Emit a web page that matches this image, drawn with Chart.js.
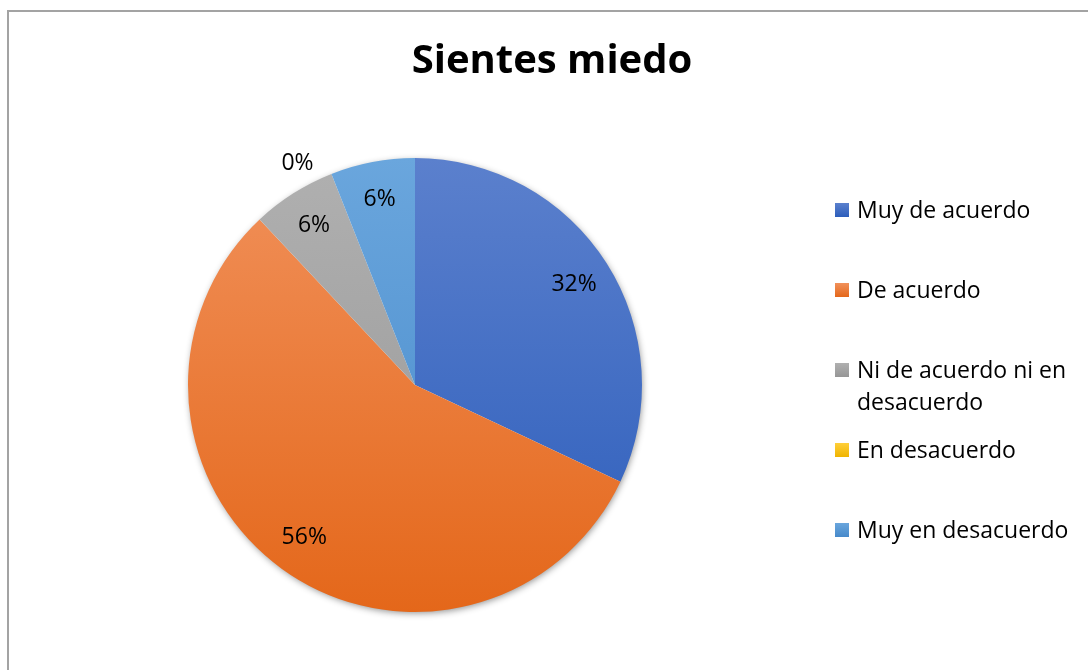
<!DOCTYPE html>
<html lang="es">
<head>
  <meta charset="UTF-8">
  <title>Sientes miedo</title>
  <script src="https://cdn.jsdelivr.net/npm/chart.js"></script>
  <style>
    body {
      margin: 0;
      background: #fff;
      overflow: hidden;
    }
    #frame {
      position: absolute;
      left: 7px;
      top: 10px;
      width: 1200px;
      height: 800px;
      border: 2px solid #a3a3a3;
    }
    canvas {
      position: absolute;
      left: 0;
      top: 0;
    }
  </style>
</head>
<body>
  <div id="frame"></div>
  <canvas id="pieChart" width="1088" height="670"></canvas>

  <script>
    // data
    const categories = ['Muy de acuerdo', 'De acuerdo', 'Ni de acuerdo ni en desacuerdo', 'En desacuerdo', 'Muy en desacuerdo'];
    const percents = [32, 56, 6, 0, 6];
    const chartTitle = 'Sientes miedo';

    // office-like gradient colours, light on top, darker at the bottom
    const topColors = ['#5b80cd', '#f1915b', '#b0b0b0', '#ffcf3a', '#6aa6dd'];
    const bottomColors = ['#2c5dbb', '#e4671a', '#969696', '#efb400', '#4689ca'];
    const fontFam = "'Open Sans', sans-serif";

    function sliceFill(c) {
      const chart = c.chart;
      const area = chart.chartArea;
      const i = c.dataIndex;
      if (!area) return topColors[i];
      const g = chart.ctx.createLinearGradient(0, area.top, 0, area.bottom);
      g.addColorStop(0, topColors[i]);
      g.addColorStop(1, bottomColors[i]);
      return g;
    }

    // soft shadow under the pie
    const pieShadow = {
      id: 'pieShadow',
      beforeDatasetsDraw(chart) {
        const arc = chart.getDatasetMeta(0).data[0];
        if (!arc) return;
        const ctx = chart.ctx;
        ctx.save();
        ctx.shadowColor = 'rgba(0,0,0,0.45)';
        ctx.shadowBlur = 7;
        ctx.shadowOffsetX = 1;
        ctx.shadowOffsetY = 2;
        ctx.fillStyle = '#fff';
        ctx.beginPath();
        ctx.arc(arc.x, arc.y, arc.outerRadius - 1, 0, Math.PI * 2);
        ctx.fill();
        ctx.restore();
      }
    };

    // percent labels, inside near the rim; empty slices go outside
    const sliceLabels = {
      id: 'sliceLabels',
      afterDatasetsDraw(chart) {
        const ctx = chart.ctx;
        ctx.save();
        ctx.font = '23px ' + fontFam;
        ctx.fillStyle = '#000';
        ctx.textAlign = 'center';
        ctx.textBaseline = 'middle';
        chart.getDatasetMeta(0).data.forEach((arc, i) => {
          let mid = (arc.startAngle + arc.endAngle) / 2;
          let r = arc.outerRadius * 0.83;
          if (percents[i] === 0) {
            // pushed out and a bit to the left so it clears the 6% label
            r = arc.outerRadius + 24;
            mid -= 0.11;
          }
          const x = arc.x + Math.cos(mid) * r;
          const y = arc.y + Math.sin(mid) * r;
          ctx.fillText(percents[i] + '%', x, y);
        });
        ctx.restore();
      }
    };

    // title drawn by hand so it can sit centred over the whole frame
    const topTitle = {
      id: 'topTitle',
      afterDraw(chart) {
        const ctx = chart.ctx;
        ctx.save();
        ctx.font = 'bold 40px ' + fontFam;
        ctx.fillStyle = '#000';
        ctx.textAlign = 'center';
        ctx.textBaseline = 'middle';
        ctx.fillText(chartTitle, 552, 62);
        ctx.restore();
      }
    };

    // legend on the right with word wrap
    const sideLegend = {
      id: 'sideLegend',
      afterDraw(chart) {
        const ctx = chart.ctx;
        const boxX = 835, textX = 857, firstY = 210, rowGap = 80, lineH = 32, maxW = 222;
        ctx.save();
        ctx.font = '23px ' + fontFam;
        ctx.textBaseline = 'middle';
        categories.forEach((name, i) => {
          const y = firstY + i * rowGap;
          const g = ctx.createLinearGradient(0, y - 7, 0, y + 7);
          g.addColorStop(0, topColors[i]);
          g.addColorStop(1, bottomColors[i]);
          ctx.fillStyle = g;
          ctx.fillRect(boxX, y - 7, 14, 14);
          ctx.fillStyle = '#000';
          const words = name.split(' ');
          let line = '', ly = y + 1;
          words.forEach(w => {
            const test = line ? line + ' ' + w : w;
            if (ctx.measureText(test).width > maxW && line) {
              ctx.fillText(line, textX, ly);
              line = w;
              ly += lineH;
            } else {
              line = test;
            }
          });
          ctx.fillText(line, textX, ly);
        });
        ctx.restore();
      }
    };

    new Chart(document.getElementById('pieChart'), {
      type: 'pie',
      data: {
        labels: categories,
        datasets: [{
          data: percents,
          backgroundColor: sliceFill,
          borderWidth: 0
        }]
      },
      options: {
        responsive: false,
        animation: false,
        layout: {
          padding: { top: 158, bottom: 58, left: 188, right: 446 }
        },
        plugins: {
          legend: { display: false },
          title: { display: false },
          tooltip: { enabled: false }
        }
      },
      plugins: [pieShadow, sliceLabels, topTitle, sideLegend]
    });
  </script>
</body>
</html>
